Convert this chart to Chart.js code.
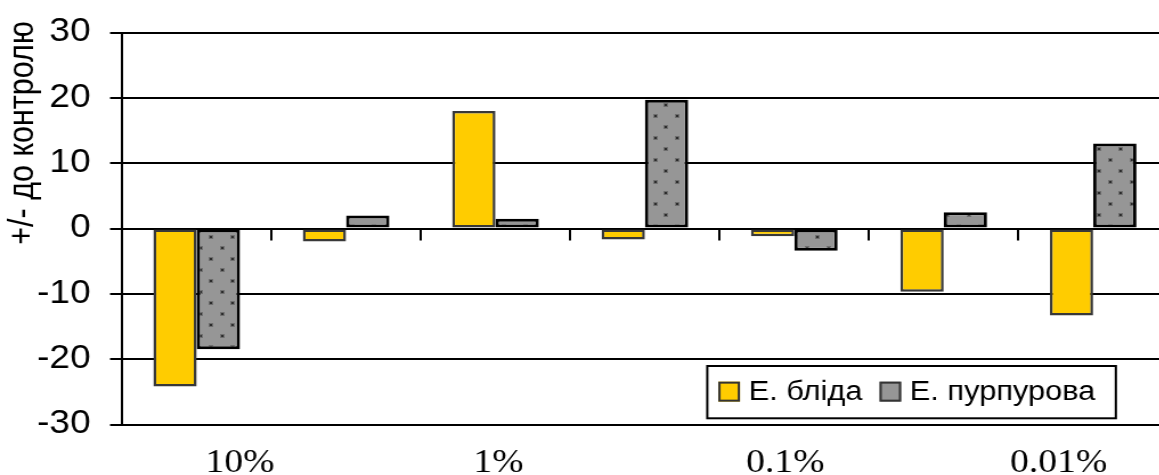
<!DOCTYPE html>
<html>
<head>
<meta charset="utf-8">
<script src="https://cdn.jsdelivr.net/npm/chart.js@4"></script>
<style>
  html, body { margin: 0; padding: 0; overflow: hidden; background: #fff; width: 1159px; height: 475px; }
  #wrap { position: absolute; left: 0; top: 0; width: 1030px; height: 475px; transform: scaleX(1.14); transform-origin: 0 0; }
  canvas { display: block; }
</style>
</head>
<body>
<div id="wrap"><canvas id="chart" width="1030" height="475"></canvas></div>
<script>
// Experimental groups along the category axis
const groups = ['1', '2', '3', '4', '5', '6', '7'];

// Deviation from control, per species
const paleValues   = [-24.2, -2.0, 18.0, -1.7, -1.2, -9.7, -13.3];
const purpleValues = [-18.5,  2.0,  1.5, 19.7, -3.4,  2.5,  13.0];
const seriesNames  = ['Е. бліда', 'Е. пурпурова'];

// Concentration captions under the plot and where they sit along the group axis
const concentrationLabels = ['10%', '1%', '0.1%', '0.01%'];
const concentrationAt     = [0.79, 2.52, 4.44, 6.27];

// Value axis
const yTicks = [-30, -20, -10, 0, 10, 20, 30];
const yTitle = '+/- до контролю';

const SANS = 'Liberation Sans, Arial, sans-serif';
const SERIF = 'Liberation Serif, Times New Roman, serif';

// Grey fill with a staggered grid of dark dots
function dotPattern(ctx) {
  const tile = document.createElement('canvas');
  tile.width = 19; tile.height = 22;
  const g = tile.getContext('2d');
  g.fillStyle = '#969696';
  g.fillRect(0, 0, tile.width, tile.height);
  const dot = (x, y) => {
    g.fillStyle = '#6e6e6e';
    g.fillRect(x - 1, y - 1, 4, 4);
    g.fillStyle = '#2a2a2a';
    g.fillRect(x, y, 2, 2);
  };
  dot(4, 5);
  dot(13, 16);
  return ctx.createPattern(tile, 'repeat');
}

const canvas = document.getElementById('chart');
const ctx = canvas.getContext('2d');

// Rotated value-axis caption, placed toward the top of the axis
const axisCaption = {
  id: 'axisCaption',
  afterDraw(chart) {
    const c = chart.ctx;
    c.save();
    c.translate(20.6, 133);
    c.rotate(-Math.PI / 2);
    c.font = '30.5px ' + SANS;
    c.fillStyle = '#000';
    c.textAlign = 'center';
    c.textBaseline = 'middle';
    c.fillText(yTitle, 0, 0);
    c.restore();
  }
};

// Boxed legend inside the lower right of the plot
const boxedLegend = {
  id: 'boxedLegend',
  afterDraw(chart) {
    const c = chart.ctx;
    const box = { left: 620.4, top: 366, height: 52.3, padLeft: 9.7, padRight: 18,
                  swW: 19, swH: 20, swGap: 7.6, itemGap: 15, baseline: 400 };
    c.save();
    c.font = '27px ' + SANS;
    const items = chart.data.datasets.map(ds => ({
      text: ds.label, fill: ds.legendFill, w: c.measureText(ds.label).width
    }));
    let width = box.padLeft + box.padRight;
    items.forEach((it, i) => { width += box.swW + box.swGap + it.w + (i ? box.itemGap : 0); });
    c.fillStyle = '#fff';
    c.fillRect(box.left, box.top, width, box.height);
    c.lineWidth = 2;
    c.strokeStyle = '#000';
    c.strokeRect(box.left, box.top, width, box.height);
    let x = box.left + box.padLeft;
    const swTop = box.top + (box.height - box.swH) / 2 - 0.5;
    items.forEach((it, i) => {
      if (i) x += box.itemGap;
      c.fillStyle = it.fill;
      c.fillRect(x, swTop, box.swW, box.swH);
      c.lineWidth = 2;
      c.strokeStyle = '#333';
      c.strokeRect(x + 1, swTop + 1, box.swW - 2, box.swH - 2);
      x += box.swW + box.swGap;
      c.fillStyle = '#000';
      c.textBaseline = 'alphabetic';
      c.textAlign = 'left';
      c.fillText(it.text, x, box.baseline);
      x += it.w;
    });
    c.restore();
  }
};

new Chart(ctx, {
  type: 'bar',
  data: {
    labels: groups,
    datasets: [
      {
        label: seriesNames[0],
        data: paleValues,
        backgroundColor: '#FFCC00',
        legendFill: '#FFCC00',
        borderColor: '#383838',
        borderWidth: 2.5,
        borderSkipped: false,
        barPercentage: 1,
        categoryPercentage: 0.58,
        xAxisID: 'x',
        yAxisID: 'y'
      },
      {
        label: seriesNames[1],
        data: purpleValues,
        backgroundColor: dotPattern(ctx),
        legendFill: '#969696',
        borderColor: '#000',
        borderWidth: 3,
        borderSkipped: false,
        barPercentage: 1,
        categoryPercentage: 0.58,
        xAxisID: 'x',
        yAxisID: 'y'
      }
    ]
  },
  options: {
    responsive: false,
    animation: false,
    devicePixelRatio: 1,
    layout: { padding: { left: 0, right: 5.6, top: 32.5, bottom: 0 } },
    plugins: { legend: { display: false }, tooltip: { enabled: false } },
    scales: {
      x: {
        type: 'category',
        position: { y: 0 },
        offset: true,
        grid: { display: true, drawOnChartArea: false, drawTicks: true, tickLength: 10.5,
                color: '#000', lineWidth: 2, offset: true },
        border: { display: true, color: '#000', width: 2 },
        ticks: { display: false }
      },
      xl: {
        type: 'linear',
        position: 'bottom',
        min: 0,
        max: groups.length,
        offset: false,
        afterBuildTicks: s => { s.ticks = concentrationAt.map(v => ({ value: v })); },
        afterFit: s => { s.height = 50.5; },
        grid: { display: false, drawTicks: false, offset: false },
        border: { display: false },
        ticks: {
          callback: (v, i) => concentrationLabels[i],
          font: { family: SERIF, size: 33 },
          color: '#000',
          padding: 19.5,
          maxRotation: 0,
          autoSkip: false
        }
      },
      y: {
        min: -30,
        max: 30,
        afterBuildTicks: s => { s.ticks = yTicks.map(v => ({ value: v })); },
        afterFit: s => { s.width = 107; },
        grid: { color: '#000', lineWidth: 2, drawTicks: true, tickLength: 10.5 },
        border: { display: true, color: '#000', width: 2 },
        ticks: { font: { family: SANS, size: 32.5, lineHeight: 0.95 }, color: '#000', padding: 17 }
      }
    }
  },
  plugins: [axisCaption, boxedLegend]
});
</script>
</body>
</html>
